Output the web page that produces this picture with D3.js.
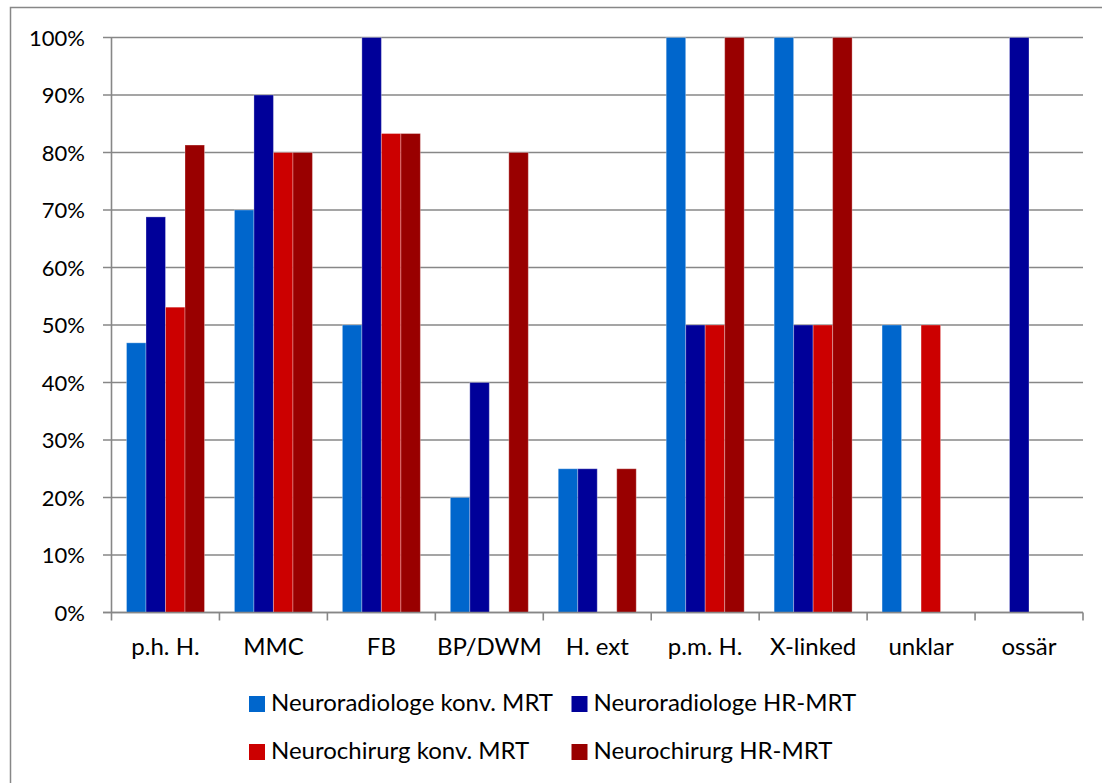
<!DOCTYPE html>
<html><head><meta charset="utf-8">
<script src="https://cdn.jsdelivr.net/npm/d3@7"></script>
<style>body{margin:0;background:#fff}svg{display:block}</style>
</head><body>
<svg id="c" width="1102" height="783"></svg>
<script>
// Category labels along the x axis
const categories = ["p.h. H.", "MMC", "FB", "BP/DWM", "H. ext", "p.m. H.", "X-linked", "unklar", "ossär"];
// Series names (legend order)
const seriesNames = ["Neuroradiologe konv. MRT", "Neuroradiologe HR-MRT", "Neurochirurg konv. MRT", "Neurochirurg HR-MRT"];
// Share of correct findings per category, in percent
const radKonv = [46.9, 70, 50, 20, 25, 100, 100, 50, 0];
const radHR   = [68.8, 90, 100, 40, 25, 50, 50, 0, 100];
const chirKonv = [53.1, 80, 83.3, 0, 0, 50, 50, 50, 0];
const chirHR  = [81.3, 80, 83.3, 80, 25, 100, 100, 0, 0];
// Y axis tick values
const yTicks = [0, 10, 20, 30, 40, 50, 60, 70, 80, 90, 100];

const seriesValues = [radKonv, radHR, chirKonv, chirHR];
const colors = ["#0066cc", "#000099", "#cc0000", "#990000"];
const font = "Lato, 'Liberation Sans', sans-serif";
const grey = "#878787";

const svg = d3.select("#c");

// outer chart frame (runs past the right and bottom edge)
svg.append("rect").attr("x", 10.5).attr("y", 7.5).attr("width", 1200).attr("height", 900)
  .attr("fill", "none").attr("stroke", grey).attr("stroke-width", 1.5);

const plotL = 111.5, plotR = 1083, plotT = 37.5, plotB = 612.5;

const x = d3.scaleBand().domain(categories).range([plotL, plotR]).paddingInner(0.2774).paddingOuter(0.139);
const xs = d3.scaleBand().domain(d3.range(seriesValues.length)).range([0, x.bandwidth()]);
const y = d3.scaleLinear().domain([0, 100]).range([plotB, plotT]);

// horizontal gridlines with short tick stubs on the left
svg.append("g").selectAll("line").data(yTicks).join("line")
  .attr("x1", plotL - 8.5).attr("x2", plotR)
  .attr("y1", d => y(d)).attr("y2", d => y(d))
  .attr("stroke", grey).attr("stroke-width", 1.6);

// y tick labels
svg.append("g").selectAll("text").data(yTicks).join("text")
  .attr("x", 85).attr("y", d => y(d) + 8)
  .attr("text-anchor", "end")
  .style("font-family", font).style("font-size", "22px").attr("fill", "#000")
  .text(d => d + "%");

// bars
const groups = svg.append("g").selectAll("g").data(categories).join("g")
  .attr("transform", c => `translate(${x(c)},0)`);
groups.selectAll("rect")
  .data((c, i) => seriesValues.map((vals, s) => ({s, v: vals[i]})).filter(d => d.v > 0))
  .join("rect")
  .attr("x", d => xs(d.s)).attr("width", xs.bandwidth())
  .attr("y", d => y(d.v)).attr("height", d => y(0) - y(d.v))
  .attr("fill", d => colors[d.s])
  .attr("stroke", "rgba(255,255,255,0.3)").attr("stroke-width", 1);

// y axis line
svg.append("line").attr("x1", plotL).attr("x2", plotL).attr("y1", plotT).attr("y2", plotB)
  .attr("stroke", grey).attr("stroke-width", 1.6);
// x axis line
svg.append("line").attr("x1", plotL - 8.5).attr("x2", plotR).attr("y1", plotB).attr("y2", plotB)
  .attr("stroke", grey).attr("stroke-width", 1.6);

// x axis tick marks at category boundaries
const bounds = d3.range(categories.length + 1).map(i => plotL + i * (plotR - plotL) / categories.length);
svg.append("g").selectAll("line").data(bounds).join("line")
  .attr("x1", d => d).attr("x2", d => d).attr("y1", plotB).attr("y2", plotB + 8)
  .attr("stroke", grey).attr("stroke-width", 1.6);

// category labels
svg.append("g").selectAll("text").data(categories).join("text")
  .attr("x", c => x(c) + x.bandwidth() / 2).attr("y", 655)
  .attr("text-anchor", "middle")
  .style("font-family", font).style("font-size", "24px").attr("fill", "#000")
  .text(c => c);

// legend, two columns by two rows
const legendPos = [[249, 696], [571.5, 696], [249, 744], [571.5, 744]];
const lg = svg.append("g").selectAll("g").data(seriesNames).join("g")
  .attr("transform", (d, i) => `translate(${legendPos[i][0]},${legendPos[i][1]})`);
lg.append("rect").attr("width", 16).attr("height", 16).attr("fill", (d, i) => colors[i]);
lg.append("text").attr("x", 22).attr("y", 15)
  .style("font-family", font).style("font-size", "24px").attr("fill", "#000")
  .text(d => d);
</script>
</body></html>
